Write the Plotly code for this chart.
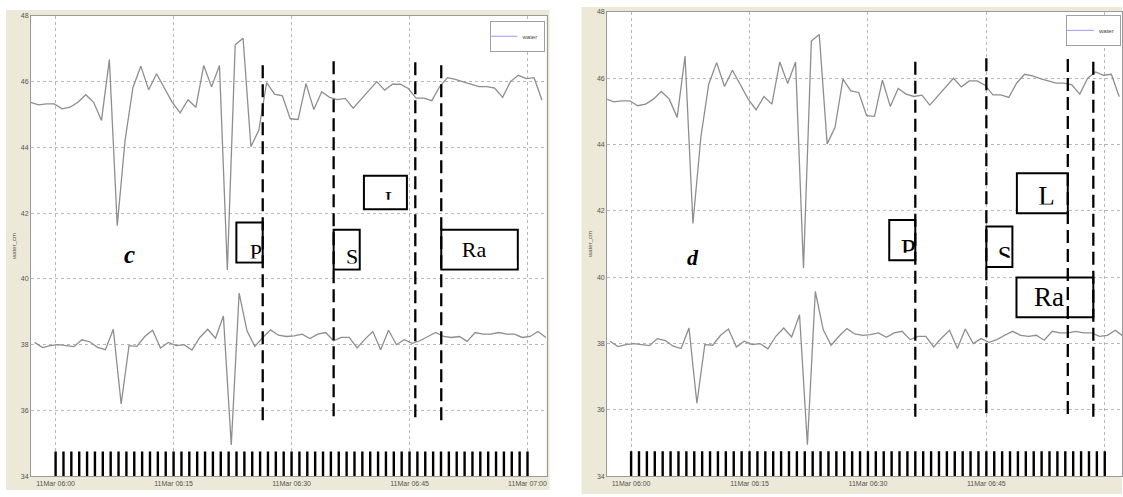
import pandas as pd
import plotly.graph_objects as go

# ---------------- data ----------------
upper_start = "2011-03-11 05:56:50"
lower_start = "2011-03-11 05:57:20"
upper_cm = [45.37, 45.29, 45.32, 45.32, 45.17, 45.22, 45.37, 45.60, 45.37, 44.82,
            46.67, 41.62, 44.22, 45.82, 46.47, 45.75, 46.24, 45.82, 45.37, 45.05,
            45.45, 45.22, 46.49, 45.84, 46.49, 40.27, 47.12, 47.32, 44.02, 44.52,
            45.97, 45.62, 45.57, 44.87, 44.85, 45.94, 45.15, 45.69, 45.52, 45.45,
            45.49, 45.19, 45.47, 45.75, 46.00, 45.74, 45.92, 45.92, 45.79, 45.50,
            45.50, 45.42, 45.85, 46.12, 46.07, 45.99, 45.92, 45.85, 45.85, 45.80,
            45.52, 46.00, 46.19, 46.09, 46.12, 45.44]
lower_cm = [38.07, 37.91, 37.97, 38.00, 37.97, 37.94, 38.15, 38.09, 37.92, 37.85,
            38.47, 36.20, 37.97, 37.95, 38.25, 38.44, 37.90, 38.07, 37.97, 38.00,
            37.84, 38.22, 38.47, 38.20, 38.87, 34.95, 39.57, 38.42, 37.95, 38.22,
            38.45, 38.29, 38.25, 38.27, 38.32, 38.19, 38.32, 38.37, 38.12, 38.22,
            38.22, 37.90, 38.17, 38.40, 37.85, 38.44, 38.00, 38.15, 38.04, 38.12,
            38.25, 38.37, 38.25, 38.22, 38.25, 38.10, 38.37, 38.32, 38.32, 38.37,
            38.32, 38.32, 38.22, 38.25, 38.40, 38.22]
upper_time = pd.date_range(upper_start, periods=len(upper_cm), freq="min")
lower_time = pd.date_range(lower_start, periods=len(lower_cm), freq="min")
sample_marks = pd.date_range("2011-03-11 06:00", "2011-03-11 07:00", freq="min")
sample_mark_level = 34.35

phase_labels = ["P", "S", "L", "Ra"]

# panel c
c_line_times = ["06:26:20", "06:35:21", "06:45:44", "06:49:02"]
c_line_top = [46.50, 46.62, 46.59, 46.50]
c_line_bottom = [35.68, 35.77, 35.74, 35.68]
c_box_start = ["06:22:59", "06:35:21", "06:39:12", "06:49:02"]
c_box_end = ["06:26:20", "06:38:40", "06:44:40", "06:58:46"]
c_box_low = [40.497, 40.287, 42.116, 40.287]
c_box_high = [41.714, 41.495, 43.135, 41.495]
c_text_time = ["06:25:27", "06:37:42", "06:42:43", "06:53:12"]
c_text_level = [40.78, 40.62, 42.39, 40.83]
c_text_size = [22, 22, 22, 22]
c_text_clip = [40.62, 40.47, 42.41, 40.56]

# panel d
d_line_times = ["06:36:00", "06:45:00", "06:55:19", "06:58:33"]
d_line_top = [46.50, 46.60, 46.58, 46.50]
d_line_bottom = [35.67, 35.80, 35.75, 35.67]
d_box_start = ["06:32:42", "06:45:00", "06:48:52", "06:48:49"]
d_box_end = ["06:36:00", "06:48:18", "06:55:19", "06:58:33"]
d_box_low = [40.509, 40.310, 41.927, 38.794]
d_box_high = [41.728, 41.529, 43.134, 39.995]
d_text_time = ["06:35:06", "06:47:19", "06:52:38", "06:52:57"]
d_text_level = [40.78, 40.58, 42.37, 39.35]
d_text_size = [27, 25, 27, 27]
d_text_clip = [40.74, 40.59, 42.19, None]

DAY = "2011-03-11 "
W, H = 1123, 497
BEIGE = "#ECE9D8"
GRAY_LINE = "#8e8e8e"

panels = [
    dict(name="c", xa="x", ya="y", xr=[DAY + "05:56:52", DAY + "07:02:25"],
         xdom=[31 / W, 547 / W], ydom=[1 - 479 / H, 1 - 12 / H],
         lines=(c_line_times, c_line_top, c_line_bottom),
         boxes=(c_box_start, c_box_end, c_box_low, c_box_high),
         text=(c_text_time, c_text_level, c_text_size, c_text_clip),
         tag_time="06:09:26", tag_level=40.75, tag_size=25,
         legend="legend", frame=[6, 550, 6, 493]),
    dict(name="d", xa="x2", ya="y2", xr=[DAY + "05:56:58", DAY + "07:02:11"],
         xdom=[607.7 / W, 1.0], ydom=[1 - 479 / H, 1 - 8 / H],
         lines=(d_line_times, d_line_top, d_line_bottom),
         boxes=(d_box_start, d_box_end, d_box_low, d_box_high),
         text=(d_text_time, d_text_level, d_text_size, d_text_clip),
         tag_time="06:07:53", tag_level=40.58, tag_size=22,
         legend="legend2", frame=[582, 1123, 3, 497]),
]

fig = go.Figure()
shapes = []
annotations = []

for p in panels:
    xa, ya = p["xa"], p["ya"]
    # beige frame around the plot, white plotting area on top of it
    f = p["frame"]
    shapes.append(dict(type="rect", xref="paper", yref="paper", layer="below",
                       x0=f[0] / W, x1=f[1] / W, y0=1 - f[3] / H, y1=1 - f[2] / H,
                       fillcolor=BEIGE, line=dict(width=0)))
    shapes.append(dict(type="rect", xref="paper", yref="paper", layer="below",
                       x0=p["xdom"][0], x1=p["xdom"][1], y0=p["ydom"][0], y1=p["ydom"][1],
                       fillcolor="white", line=dict(width=0)))
    fig.add_trace(go.Scatter(x=upper_time, y=upper_cm, mode="lines", xaxis=xa, yaxis=ya,
                             line=dict(color=GRAY_LINE, width=1.3), showlegend=False,
                             hoverinfo="skip"))
    fig.add_trace(go.Scatter(x=lower_time, y=lower_cm, mode="lines", xaxis=xa, yaxis=ya,
                             line=dict(color=GRAY_LINE, width=1.3), showlegend=False,
                             hoverinfo="skip"))
    fig.add_trace(go.Scatter(x=sample_marks, y=[sample_mark_level] * len(sample_marks),
                             mode="markers", xaxis=xa, yaxis=ya, showlegend=False,
                             marker=dict(symbol="line-ns", size=19, color="black",
                                         line=dict(color="black", width=2.4)),
                             hoverinfo="skip"))
    fig.add_trace(go.Scatter(x=[None], y=[None], mode="lines", name="water",
                             xaxis=xa, yaxis=ya, legend=p["legend"],
                             line=dict(color="#9a9aff", width=1)))
    # phase boxes
    bs, be, bl, bh = p["boxes"]
    tt, tl, ts, tc = p["text"]
    for i in range(len(bs)):
        shapes.append(dict(type="rect", xref=xa, yref=ya, layer="between",
                           x0=DAY + bs[i], x1=DAY + be[i], y0=bl[i], y1=bh[i],
                           fillcolor="white", line=dict(color="black", width=2)))
        if tc[i] is not None:
            x0 = pd.Timestamp(DAY + bs[i]) + pd.Timedelta(seconds=11)
            x1 = pd.Timestamp(DAY + be[i]) - pd.Timedelta(seconds=11)
            shapes.append(dict(type="rect", xref=xa, yref=ya, layer="above",
                               x0=x0, x1=x1, y0=bl[i] + 0.04, y1=tc[i],
                               fillcolor="white", line=dict(width=0)))
    fig.add_trace(go.Scatter(x=[DAY + t for t in tt], y=tl, text=phase_labels,
                             mode="text", textposition="middle center",
                             textfont=dict(family="Liberation Serif", size=ts, color="black"),
                             xaxis=xa, yaxis=ya, showlegend=False, hoverinfo="skip"))
    # dashed phase lines
    lt, ltop, lbot = p["lines"]
    for i in range(len(lt)):
        shapes.append(dict(type="line", xref=xa, yref=ya, layer="above",
                           x0=DAY + lt[i], x1=DAY + lt[i], y0=ltop[i], y1=lbot[i],
                           line=dict(color="black", width=2.3, dash="13px,6px")))
    annotations.append(dict(xref=xa, yref=ya, x=DAY + p["tag_time"], y=p["tag_level"],
                            text="<b><i>%s</i></b>" % p["name"], showarrow=False,
                            font=dict(family="Liberation Serif", size=p["tag_size"],
                                      color="black")))

axis_common = dict(showgrid=True, gridcolor="#b8b8b8", griddash="dot", gridwidth=1,
                   showline=True, linecolor="#9a9a9a", linewidth=1, mirror=True,
                   zeroline=False, ticks="",
                   tickfont=dict(family="Liberation Sans", size=7, color="#555555"))

layout = dict(width=W, height=H, margin=dict(l=0, r=0, t=0, b=0),
              paper_bgcolor="white", plot_bgcolor="white", shapes=shapes,
              annotations=annotations, showlegend=True)
for k, p in enumerate(panels):
    sx = "" if k == 0 else "2"
    layout["xaxis" + sx] = dict(axis_common, domain=p["xdom"], range=p["xr"], type="date",
                                anchor="y" + sx, tick0=DAY + "06:00", dtick=15 * 60 * 1000,
                                tickformat="%d%b %H:%M")
    layout["yaxis" + sx] = dict(axis_common, domain=p["ydom"], range=[34, 48],
                                anchor="x" + sx, dtick=2,
                                title=dict(text="water_cm", standoff=3,
                                           font=dict(family="Liberation Sans", size=6,
                                                     color="#555555")))

legend_common = dict(bgcolor="white", bordercolor="#a0a0a0", borderwidth=1,
                     font=dict(family="Liberation Sans", size=6, color="#444444"),
                     itemwidth=30, xanchor="right", yanchor="top",
                     tracegroupgap=0, indentation=-8)
layout["legend"] = dict(legend_common, x=545 / W, y=1 - 17 / H)
layout["legend2"] = dict(legend_common, x=1122 / W, y=1 - 11 / H)

fig.update_layout(**layout)
fig.write_html("out.html")
